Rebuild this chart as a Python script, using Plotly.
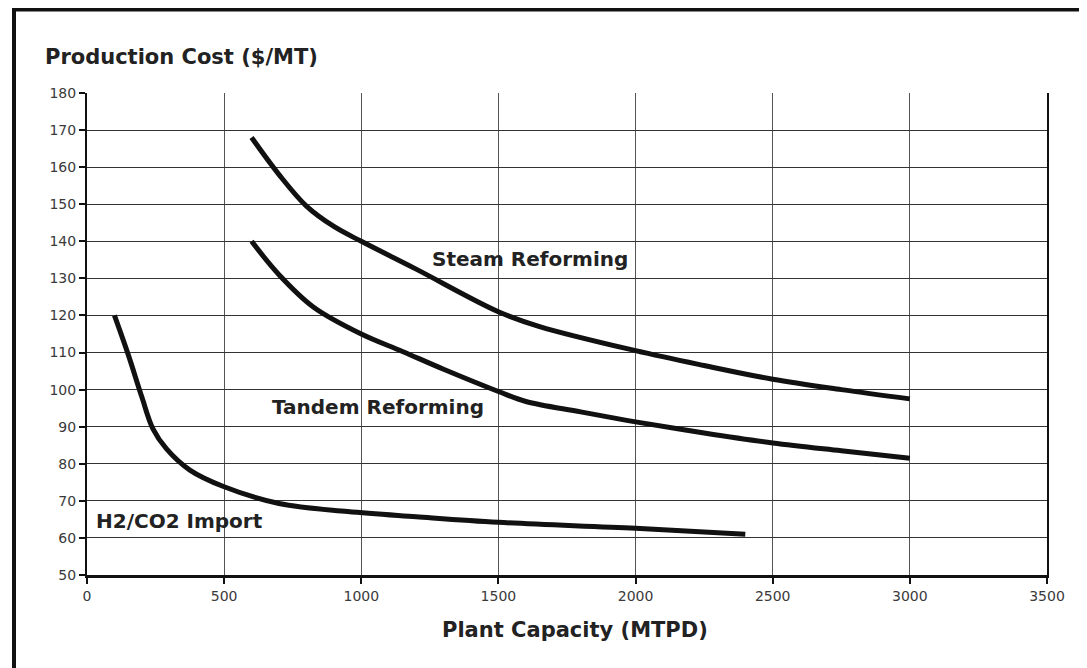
import plotly.graph_objects as go

# ---- data ----
steam_x = [600, 700, 800, 900, 1000, 1200, 1500, 1650, 2000, 2250, 2500, 2750, 3000]
steam_y = [168, 158, 149.5, 144, 140, 132.5, 121, 117, 110.5, 106.5, 102.8, 100, 97.5]

tandem_x = [600, 700, 825, 1000, 1150, 1300, 1500, 1600, 1800, 2000, 2250, 2500, 2750, 3000]
tandem_y = [140, 131, 122.3, 115, 110.3, 105.5, 99.5, 96.8, 94, 91.3, 88.3, 85.6, 83.5, 81.5]

h2_x = [100, 150, 200, 240, 290, 375, 500, 700, 950, 1200, 1500, 2000, 2400]
h2_y = [120, 109.5, 98, 89.5, 84, 78.3, 73.8, 69.3, 67.1, 65.7, 64.2, 62.6, 61]

x_ticks = [0, 500, 1000, 1500, 2000, 2500, 3000, 3500]
y_ticks = [50, 60, 70, 80, 90, 100, 110, 120, 130, 140, 150, 160, 170, 180]

labels = ["Steam Reforming", "Tandem Reforming", "H2/CO2 Import"]
label_x = [1615, 1061, 339]
label_y = [135.2, 95.3, 64.6]

FONT = "DejaVu Sans"

# page offset (default body margin of the html page)
OFF = 8
L, T = 87 - OFF, 93 - OFF          # plot-area left/top in figure coords
PW, PH = 960, 482                 # plot-area size

fig = go.Figure()
for xs, ys in [(steam_x, steam_y), (tandem_x, tandem_y), (h2_x, h2_y)]:
    fig.add_trace(go.Scatter(x=xs, y=ys, mode="lines",
                             line=dict(color="#111111", width=5, shape="spline", smoothing=1.0),
                             showlegend=False, hoverinfo="skip"))

for t, lx, ly in zip(labels, label_x, label_y):
    fig.add_annotation(x=lx, y=ly, xref="x", yref="y", text="<b>%s</b>" % t,
                       showarrow=False, font=dict(family=FONT, size=20, color="#222222"))

fig.update_layout(
    width=1087 - OFF, height=668 - OFF,
    margin=dict(l=L, r=1087 - OFF - L - PW, t=T, b=668 - OFF - T - PH, pad=0),
    paper_bgcolor="white", plot_bgcolor="white",
    font=dict(family=FONT, color="#333333"),
    xaxis=dict(range=[0, 3500], tickvals=x_ticks, ticktext=[str(v) for v in x_ticks],
               showgrid=True, gridcolor="#555555", gridwidth=1.2,
               showline=True, linecolor="#111111", linewidth=2.5,
               ticks="outside", ticklen=6, tickcolor="#111111", tickwidth=2,
               tickfont=dict(family=FONT, size=14, color="#3a3a3a"), zeroline=False),
    yaxis=dict(range=[50, 180], tickvals=y_ticks, ticktext=[str(v) for v in y_ticks],
               showgrid=True, gridcolor="#333333", gridwidth=1.4,
               showline=True, linecolor="#111111", linewidth=2, mirror=True,
               ticks="outside", ticklen=6, tickcolor="#111111", tickwidth=2,
               tickfont=dict(family=FONT, size=14, color="#3a3a3a"), zeroline=False),
)

# x-axis title
fig.add_annotation(xref="paper", yref="paper", x=(575 - 87) / PW, y=(575 - 630) / PH,
                   xanchor="center", yanchor="middle", showarrow=False,
                   text="<b>Plant Capacity (MTPD)</b>",
                   font=dict(family=FONT, size=21, color="#222222"))

# y-axis title placed at top-left like the reference
fig.add_annotation(xref="paper", yref="paper", x=(43 - 87) / PW, y=(575 - 57) / PH,
                   xanchor="left", yanchor="middle", showarrow=False,
                   text="<b>Production Cost ($/MT)</b>",
                   font=dict(family=FONT, size=21, color="#222222"))

# outer frame (cropped on right and bottom in the reference)
fig.add_shape(type="rect", xref="paper", yref="paper",
              x0=(14 - 87) / PW, x1=(1110 - 87) / PW,
              y0=(575 - 700) / PH, y1=(575 - 9.5) / PH,
              line=dict(color="#111111", width=4), fillcolor="rgba(0,0,0,0)", layer="above")

fig.write_html("out.html")
